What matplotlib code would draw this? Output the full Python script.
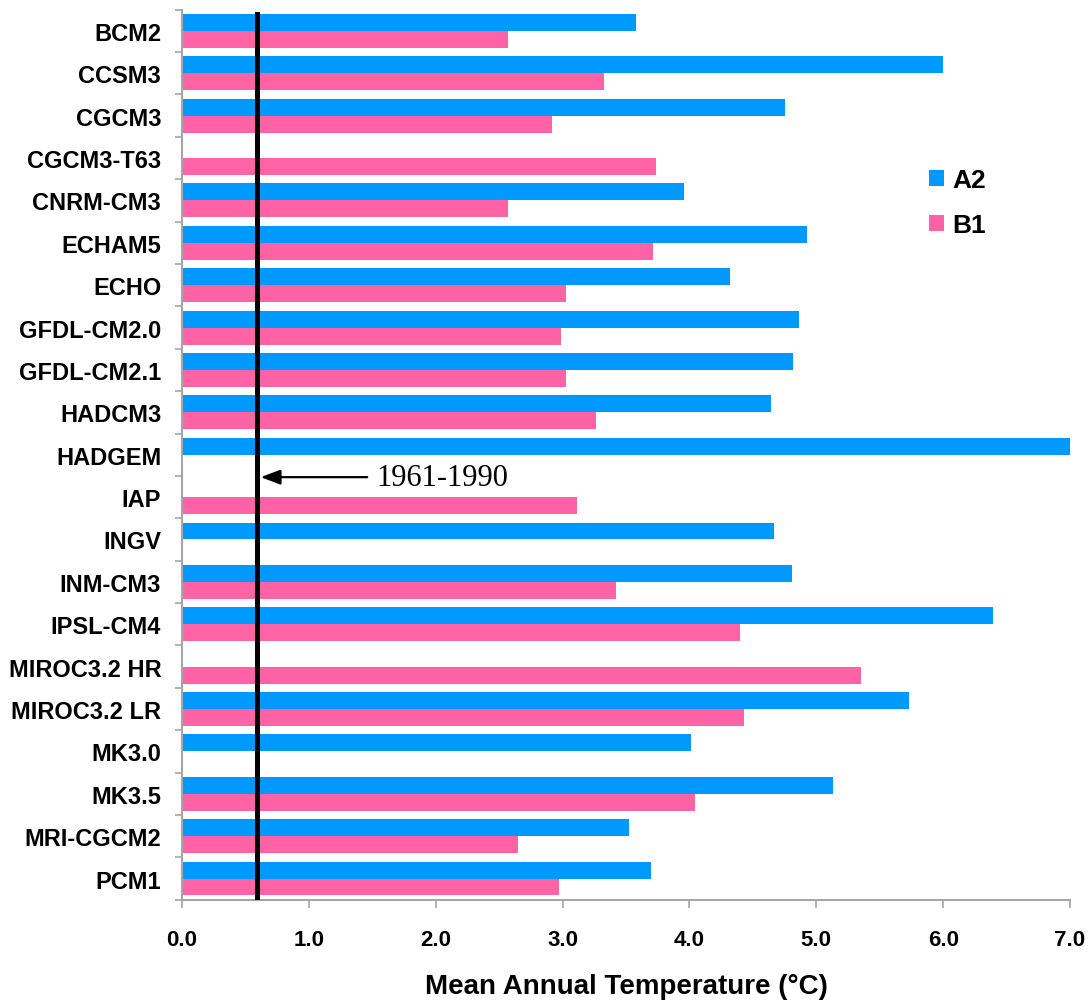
import numpy as np
import matplotlib
matplotlib.use("Agg")
import matplotlib.pyplot as plt

# models, top to bottom
models = ["BCM2", "CCSM3", "CGCM3", "CGCM3-T63", "CNRM-CM3", "ECHAM5", "ECHO",
          "GFDL-CM2.0", "GFDL-CM2.1", "HADCM3", "HADGEM", "IAP", "INGV", "INM-CM3",
          "IPSL-CM4", "MIROC3.2 HR", "MIROC3.2 LR", "MK3.0", "MK3.5", "MRI-CGCM2", "PCM1"]

# warming per scenario (nan = no run)
a2 = [3.58, 6.00, 4.75, np.nan, 3.96, 4.93, 4.32,
      4.86, 4.82, 4.64, 7.00, np.nan, 4.67, 4.81,
      6.39, np.nan, 5.73, 4.01, 5.13, 3.52, 3.70]
b1 = [2.57, 3.33, 2.92, 3.74, 2.57, 3.71, 3.03,
      2.99, 3.03, 3.26, np.nan, 3.11, np.nan, 3.42,
      4.40, 5.35, 4.43, np.nan, 4.04, 2.65, 2.97]

baseline = 0.59
baseline_label = "1961-1990"
xticks = np.arange(0, 8, 1.0)

blue = "#0099FF"
pink = "#FF63A5"
grey = "#A6A6A6"

plt.rcParams['font.family'] = ['Liberation Sans', 'DejaVu Sans']

fig = plt.figure(figsize=(10.92, 10.04), dpi=100)
ax = fig.add_axes([182 / 1092, (1004 - 900.7) / 1004, 888 / 1092, 890 / 1004])

y = np.arange(len(models))
h = 0.4
ax.barh(y - h / 2, a2, height=h, color=blue, label="A2")
ax.barh(y + h / 2, b1, height=h, color=pink, label="B1")

ax.set_ylim(len(models) - 0.5, -0.5)
ax.set_xlim(0, 7)

ax.axvline(baseline, ymin=0, ymax=0.995, color="black", lw=3.6, zorder=5)

ax.annotate("", xy=(baseline + 0.03, 10.53), xytext=(1.46, 10.53),
            arrowprops=dict(arrowstyle="-|>,head_length=1.2,head_width=0.45",
                            color="black", lw=1.6, shrinkA=0, shrinkB=0))
ax.text(1.53, 10.53, baseline_label, family="Liberation Serif", fontsize=22,
        va="center", ha="left")

ax.set_xticks(xticks)
ax.set_xticklabels([f"{v:.1f}" for v in xticks], fontsize=16, fontweight="bold")
ax.set_yticks(y)
ax.set_yticklabels(models, fontsize=17, fontweight="bold")
ax.set_yticks(np.arange(-0.5, len(models)), minor=True)
ax.tick_params(axis="y", which="major", length=0, pad=15)
ax.tick_params(axis="y", which="minor", length=5, color=grey, width=1.2)
ax.tick_params(axis="x", length=6, color=grey, width=1.2, pad=15)

for s in ["top", "right"]:
    ax.spines[s].set_visible(False)
for s in ["left", "bottom"]:
    ax.spines[s].set_color(grey)
    ax.spines[s].set_linewidth(1.5)

ax.set_xlabel("Mean Annual Temperature (°C)", fontsize=20, fontweight="bold", labelpad=17)

leg = ax.legend(loc="upper left", bbox_to_anchor=((929 - 182) / 888, (900.7 - 169) / 890),
                frameon=False, prop=dict(size=19, weight="bold"),
                handlelength=0.58, handleheight=0.54, handletextpad=0.3,
                labelspacing=0.8, borderaxespad=0, borderpad=0)

fig.savefig("out.png", dpi=100)
